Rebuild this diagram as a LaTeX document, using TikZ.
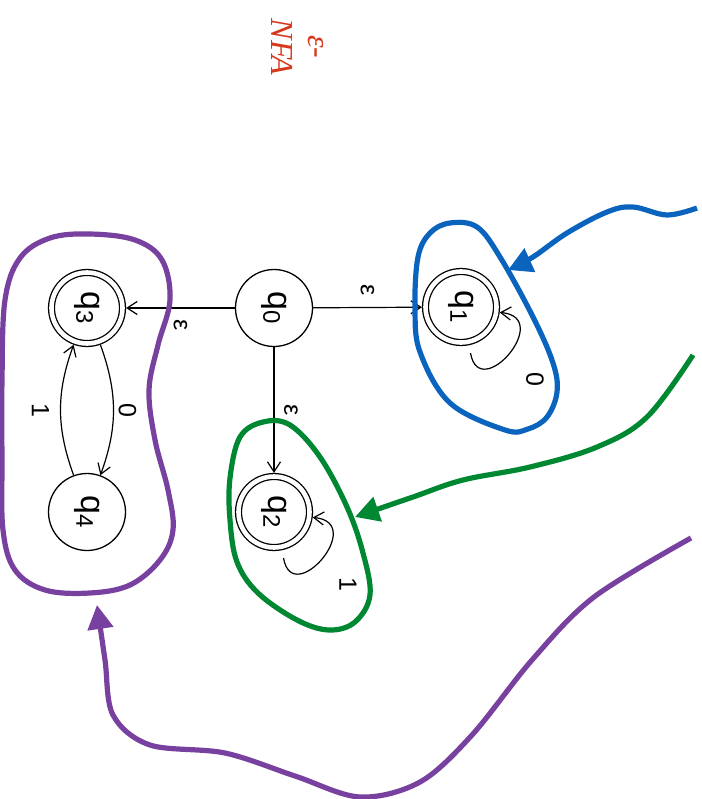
\documentclass[tikz,border=0pt]{standalone}
\usepackage{fontspec}
\setmainfont{Liberation Sans}
\newfontfamily\titlefont{Liberation Serif}
\usetikzlibrary{arrows.meta}

\definecolor{grpblue}{RGB}{10,100,190}
\definecolor{grpgreen}{RGB}{0,135,50}
\definecolor{grppurple}{RGB}{120,65,160}
\definecolor{ttlred}{RGB}{215,55,25}

% state names are set sideways, the whole sheet is turned
\newcommand{\sname}[1]{\rotatebox{-90}{q{\fontsize{24}{24}\selectfont\raisebox{-5pt}{#1}}}}

\begin{document}
\begin{tikzpicture}[x=1pt, y=1pt,
    state/.style={draw, circle, line width=1.3pt, minimum size=77pt, inner sep=0pt,
        font=\fontsize{34}{38}\selectfont},
    accept/.style={state, double, double distance=4.6pt, minimum size=71pt, outer sep=3.6pt},
    edge/.style={line width=1.2pt, -{Straight Barb[length=10pt, width=13pt]}},
    lbl/.style={rotate=-90, font=\fontsize{25}{28}\selectfont},
    group/.style={line width=5.2pt, line join=round},
    pointer/.style={line width=5.2pt, -{Triangle[length=24pt, width=25pt]}}
]
    \useasboundingbox (0,0) rectangle (701,-799);

    % title
    \node[rotate=-90, align=center, text=ttlred, font=\titlefont\itshape\fontsize{32}{37}\selectfont]
        (title) at (298,-47) {ε-\\NFA};

    % states
    \node[state]  (q0) at (274,-308) {\sname{0}};
    \node[accept] (q1) at (461,-307) {\sname{1}};
    \node[accept] (q2) at (274,-512) {\sname{2}};
    \node[accept] (q3) at (87,-308)  {\sname{3}};
    \node[state]  (q4) at (87,-512)  {\sname{4}};

    % transitions
    \draw[edge] (q0) -- (q1) node[midway, yshift=17pt, lbl] {ε};
    \draw[edge] (q0) -- (q3) node[midway, yshift=-17pt, lbl] {ε};
    \draw[edge] (q0) -- (q2) node[midway, xshift=17pt, lbl] {ε};
    \draw[edge] (q3) to[bend left=20] node[midway, xshift=14pt, lbl] {0} (q4);
    \draw[edge] (q4) to[bend left=20] node[midway, xshift=-20pt, lbl] {1} (q3);
    \draw[edge, shorten <=8pt] (q1.-78) .. controls +(-80:60) and +(-5:55) .. (q1.-8)
        node[pos=0.5, xshift=26pt, yshift=-27pt, lbl] {0};
    \draw[edge, shorten <=8pt] (q2.-78) .. controls +(-80:60) and +(-5:55) .. (q2.-8)
        node[pos=0.5, xshift=26pt, yshift=-27pt, lbl] {1};

    % closures
    \draw[group, grpblue] plot[smooth cycle, tension=0.6] coordinates {
        (450,-223) (477,-227) (500,-257) (533,-317) (553,-363) (557,-392)
        (547,-417) (528,-429) (505,-430) (450,-403) (420,-352) (415,-307)
        (418,-257) (430,-233)};
    \draw[group, grpgreen] plot[smooth cycle, tension=0.6] coordinates {
        (263,-422) (290,-425) (320,-457) (347,-507) (363,-553) (370,-595)
        (355,-622) (329,-630) (297,-620) (258,-593) (237,-562) (230,-520)
        (230,-478) (240,-437)};
    \draw[group, grppurple] plot[smooth cycle, tension=0.6] coordinates {
        (90,-234) (135,-240) (162,-260) (170,-300) (158,-345) (149,-390)
        (155,-440) (168,-490) (173,-530) (160,-560) (130,-585) (90,-593)
        (45,-590) (15,-570) (3,-530) (2,-460) (2,-380) (5,-300) (20,-258)
        (50,-238)};

    % pointers into the closures
    \coordinate (blueTail)   at (697,-208);
    \coordinate (blueTip)    at (508,-270);
    \coordinate (greenTail)  at (693,-355);
    \coordinate (greenTip)   at (355,-517);
    \coordinate (purpleTail) at (691,-538);
    \coordinate (purpleTip)  at (97,-605);

    \draw[pointer, grpblue] plot[smooth, tension=0.6] coordinates {
        (blueTail) (667,-215) (633,-207) (607,-212) (567,-233) (533,-257) (blueTip)};
    \draw[pointer, grpgreen] plot[smooth, tension=0.6] coordinates {
        (greenTail) (647,-417) (597,-447) (530,-467) (463,-480) (413,-497) (greenTip)};
    \draw[pointer, grppurple] plot[smooth, tension=0.55] coordinates {
        (purpleTail) (594,-597) (532,-660) (472,-735) (420,-782) (360,-797)
        (295,-776) (225,-753) (150,-745) (113,-715) (105,-660) (purpleTip)};
\end{tikzpicture}
\end{document}
